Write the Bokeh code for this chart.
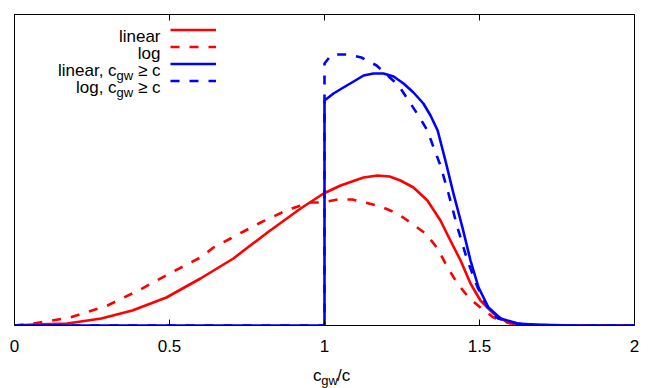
from bokeh.plotting import figure
from bokeh.layouts import column
from bokeh.models import Range1d, LinearAxis, FixedTicker, Label, Legend, LegendItem
from bokeh.embed import file_html
from bokeh.resources import INLINE

# ---- data ----
x_ticks = [0, 0.5, 1, 1.5, 2]
tick_labels = ["0", "0.5", "1", "1.5", "2"]

lin_x = [0.00, 0.06, 0.17, 0.28, 0.38, 0.49, 0.60, 0.706, 0.816, 0.923, 0.997, 1.052, 1.126,
         1.171, 1.21, 1.245, 1.287, 1.332, 1.374, 1.406, 1.439, 1.471, 1.503, 1.545, 1.59,
         1.642, 1.75, 2.00]
lin_y = [0.00, 0.01, 0.02, 0.07, 0.15, 0.28, 0.47, 0.67, 0.93, 1.17, 1.32, 1.40, 1.48,
         1.50, 1.49, 1.45, 1.38, 1.25, 1.05, 0.85, 0.65, 0.42, 0.25, 0.12, 0.03,
         0.01, 0.00, 0.00]

log_x = [0.00, 0.06, 0.18, 0.30, 0.40, 0.50, 0.60, 0.642, 0.697, 0.739, 0.794, 0.835, 0.884,
         0.955, 0.994, 1.042, 1.09, 1.132, 1.181, 1.235, 1.277, 1.326, 1.365, 1.397, 1.429,
         1.465, 1.503, 1.545, 1.60, 1.70, 2.00]
log_y = [0.00, 0.02, 0.08, 0.20, 0.35, 0.52, 0.68, 0.78, 0.87, 0.94, 1.03, 1.09, 1.16,
         1.23, 1.23, 1.26, 1.26, 1.23, 1.19, 1.12, 1.03, 0.92, 0.77, 0.58, 0.42,
         0.28, 0.18, 0.08, 0.02, 0.00, 0.00]

lin_ge_x = [0.00, 1.00, 1.00, 1.029, 1.061, 1.094, 1.126, 1.158, 1.19, 1.223, 1.255, 1.287,
            1.319, 1.342, 1.365, 1.39, 1.416, 1.445, 1.471, 1.497, 1.529, 1.568, 1.623,
            1.674, 1.80, 2.00]
lin_ge_y = [0.00, 0.00, 2.25, 2.32, 2.38, 2.44, 2.50, 2.52, 2.52, 2.49, 2.42, 2.33,
            2.22, 2.10, 1.95, 1.65, 1.32, 0.98, 0.65, 0.38, 0.18, 0.07, 0.02,
            0.01, 0.00, 0.00]

log_ge_x = [0.00, 1.00, 1.00, 1.023, 1.074, 1.119, 1.168, 1.239, 1.271, 1.303, 1.332, 1.352,
            1.374, 1.40, 1.429, 1.461, 1.494, 1.526, 1.56, 1.62, 1.70, 2.00]
log_ge_y = [0.00, 0.00, 2.62, 2.71, 2.71, 2.68, 2.60, 2.40, 2.25, 2.10, 1.95, 1.78,
            1.60, 1.32, 0.98, 0.65, 0.38, 0.18, 0.07, 0.02, 0.00, 0.00]

FONT = "Liberation Sans"
RED = "#ff0000"
BLUE = "#0000ff"

p = figure(width=650, height=355, output_backend="svg", toolbar_location=None,
           x_range=Range1d(0, 2), y_range=Range1d(0, 3.11), y_axis_location=None,
           min_border_left=14, min_border_right=16, min_border_top=14, min_border_bottom=30)
p.grid.visible = False
p.outline_line_color = "black"
p.outline_line_alpha = 1.0
p.outline_line_width = 1

ax = p.below[0]
ax.ticker = FixedTicker(ticks=x_ticks)
ax.major_label_overrides = {t: s for t, s in zip(x_ticks, tick_labels)}
ax.major_tick_in = 6
ax.major_tick_out = 0
ax.minor_tick_line_color = None
ax.axis_line_color = "black"
ax.major_tick_line_color = "black"
ax.major_label_text_font = FONT
ax.major_label_text_font_size = "17px"
ax.major_label_text_color = "black"
ax.major_label_standoff = 14

top = LinearAxis(ticker=FixedTicker(ticks=x_ticks), major_tick_in=6, major_tick_out=0,
                 minor_tick_line_color=None, major_label_text_font_size="0px",
                 major_label_standoff=0, axis_line_color="black", major_tick_line_color="black")
top.major_label_overrides = {t: "" for t in x_ticks}
p.add_layout(top, "above")

LW = 2.6
DASH = "9 10"
r1 = p.line(lin_x, lin_y, line_color=RED, line_width=LW, line_join="round")
r2 = p.line(log_x, log_y, line_color=RED, line_width=LW, line_dash=DASH, line_join="round")
r3 = p.line(lin_ge_x, lin_ge_y, line_color=BLUE, line_width=LW, line_join="round")
r4 = p.line(log_ge_x, log_ge_y, line_color=BLUE, line_width=LW, line_dash=DASH, line_join="round")

legend = Legend(items=[LegendItem(label=" ", renderers=[r]) for r in (r1, r2, r3, r4)],
                location=(156, 236), glyph_width=46, glyph_height=17, label_height=17,
                label_width=0, label_standoff=0, spacing=0, padding=0, margin=0,
                border_line_alpha=0, background_fill_alpha=0, label_text_font_size="1px")
p.add_layout(legend)

def lab(fig, x, y, text, size="17px", align="right", units="screen"):
    fig.add_layout(Label(x=x, y=y, x_units=units, y_units=units, text=text,
                         text_align=align, text_baseline="alphabetic", text_font=FONT,
                         text_font_size=size, text_color="black"))

# legend texts (gnuplot style: text left of sample)
RX = 146
lab(p, RX, 289.5, "linear")
lab(p, RX, 272.5, "log")
for yb, head in ((255, "linear, c"), (238, "log, c")):
    lab(p, RX, yb, "\u2265 c")
    lab(p, RX - 27.3, yb - 5, "gw", size="13px")
    lab(p, RX - 27.3 - 16.6, yb, head)

# x axis title c_gw/c in a strip below the plot
q = figure(width=650, height=33, output_backend="svg", toolbar_location=None,
           x_range=Range1d(0, 650), y_range=Range1d(0, 33), x_axis_location=None,
           y_axis_location=None, min_border=0, outline_line_color=None)
q.grid.visible = False
lab(q, 313, 13, "c", align="left", units="data")
lab(q, 321.5, 8, "gw", size="13px", align="left", units="data")
lab(q, 338.1, 13, "/c", align="left", units="data")

open("out.html", "w").write(file_html(column(p, q), INLINE))
